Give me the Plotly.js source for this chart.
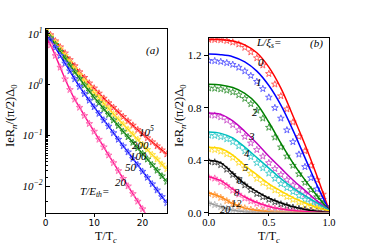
<!DOCTYPE html>
<html><head><meta charset="utf-8">
<script src="https://cdn.plot.ly/plotly-3.0.1.min.js"></script>
<style>html,body{margin:0;padding:0;background:#fff}#c{width:366px;height:244px}</style>
</head><body><div id="c"></div>
<script>
// ---------- Panel (a): T/Tc vs IeRn (log) for several T/E_th ----------
const aT = [0,1,2,3,4,5,6,7,8,9,10,11,12,13,14,15,16,17,18,19,20,21,22,23,24,25];
const aLabels = ['10<sup>5</sup>','200','100','50','20'];
const aRed    = [12.3,9.55,7.24,5.50,4.17,3.09,2.34,1.78,1.38,1.07,0.851,0.676,0.537,0.437,0.355,0.288,0.234,0.191,0.158,0.129,0.107,0.0891,0.0741,0.0617,0.0513,0.0427];
const aYellow = [11.5,8.91,6.76,5.01,3.72,2.75,2.04,1.55,1.17,0.891,0.692,0.550,0.427,0.339,0.263,0.209,0.166,0.132,0.105,0.0832,0.0661,0.0525,0.0417,0.0339,0.0269,0.0219];
const aGreen  = [10.7,8.32,6.17,4.47,3.31,2.40,1.78,1.32,0.977,0.741,0.562,0.437,0.331,0.257,0.200,0.155,0.120,0.0933,0.0724,0.0562,0.0437,0.0339,0.0263,0.0204,0.0158,0.0123];
const aBlue   = [10.0,7.59,5.37,3.72,2.63,1.86,1.29,0.912,0.661,0.490,0.363,0.269,0.200,0.151,0.112,0.0832,0.0617,0.0468,0.0347,0.0263,0.0195,0.0148,0.0110,0.00832,0.00617,0.00468];
const aPink   = [8.51,6.03,3.72,2.19,1.29,0.794,0.513,0.355,0.245,0.170,0.120,0.0832,0.0589,0.0407,0.0288,0.0200,0.0141,0.0100,0.00708,0.00501,0.00355,0.00251,0.00178,0.00126,0.00089,0.00063];
const aTickVals = [0.01,0.1,1,10];
const aTickText = ['<i>10<sup>−2</sup></i>','<i>10<sup>−1</sup></i>','<i>10<sup>0</sup></i>','<i>10<sup>1</sup></i>'];

// ---------- Panel (b): T/Tc vs IeRn for several L/xi_s ----------
const bLabels = ['0','1','2','3','4','5','6','8','12','20'];
const bTl = [0,0.1,0.2,0.3,0.4,0.5,0.6,0.7,0.8,0.9,1.0];
const bLine0  = [1.32,1.32,1.31,1.28,1.22,1.11,0.95,0.74,0.52,0.28,0.02];
const bLine1  = [1.21,1.205,1.19,1.15,1.08,0.97,0.82,0.63,0.42,0.21,0.02];
const bLine2  = [0.98,0.975,0.955,0.91,0.83,0.69,0.53,0.38,0.25,0.13,0.02];
const bLine3  = [0.76,0.75,0.70,0.62,0.53,0.43,0.34,0.25,0.17,0.09,0.02];
const bLine4  = [0.615,0.605,0.57,0.50,0.42,0.34,0.26,0.19,0.13,0.075,0.02];
const bLine5  = [0.50,0.49,0.44,0.36,0.29,0.22,0.165,0.115,0.075,0.04,0.015];
const bLine6  = [0.40,0.38,0.30,0.22,0.16,0.11,0.075,0.045,0.025,0.012,0.005];
const bLine8  = [0.275,0.245,0.18,0.12,0.078,0.048,0.028,0.016,0.009,0.004,0.002];
const bLine12 = [0.15,0.12,0.07,0.035,0.016,0.007,0.003,0.001,0.0005,0,0];
const bLine20 = [0.075,0.045,0.018,0.006,0.002,0.001,0,0,0,0,0];
const bTm = [0,0.05,0.1,0.15,0.2,0.25,0.3,0.35,0.4,0.45,0.5,0.55,0.6,0.65,0.7,0.75,0.8,0.85,0.9,0.95,1.0];
const bMk0  = [1.32,1.32,1.318,1.312,1.30,1.285,1.26,1.225,1.18,1.125,1.06,0.98,0.89,0.79,0.69,0.58,0.47,0.36,0.25,0.14,0.03];
const bMk1  = [1.16,1.158,1.152,1.143,1.13,1.108,1.08,1.045,1.0,0.945,0.88,0.80,0.72,0.63,0.54,0.445,0.35,0.265,0.18,0.10,0.03];
const bMk2  = [0.95,0.948,0.943,0.933,0.92,0.898,0.87,0.83,0.78,0.72,0.65,0.575,0.50,0.43,0.36,0.295,0.23,0.175,0.12,0.07,0.03];
const bMk3  = [0.745,0.742,0.73,0.705,0.67,0.63,0.58,0.53,0.48,0.43,0.38,0.335,0.29,0.25,0.21,0.175,0.14,0.105,0.07,0.045,0.02];
const bMk4  = [0.59,0.587,0.578,0.562,0.54,0.508,0.47,0.425,0.38,0.34,0.30,0.26,0.22,0.19,0.16,0.13,0.10,0.08,0.06,0.04,0.02];
const bMk5  = [0.485,0.48,0.468,0.448,0.42,0.382,0.34,0.30,0.26,0.228,0.20,0.172,0.145,0.122,0.10,0.08,0.06,0.047,0.035,0.025,0.015];
const bMk6  = [0.39,0.385,0.365,0.33,0.29,0.25,0.21,0.175,0.145,0.12,0.10,0.082,0.065,0.052,0.04,0.03,0.022,0.015,0.01,0.007,0.005];
const bMk8  = [0.27,0.262,0.235,0.205,0.17,0.14,0.11,0.088,0.07,0.055,0.042,0.032,0.024,0.018,0.013,0.01,0.007,0.005,0.003,0.002,0.001];
const bMk12 = [0.145,0.135,0.115,0.09,0.068,0.05,0.035,0.024,0.016,0.011,0.007,0.005,0.003,0.002,0.001,0.001,0.001,0.001,0.001,0.001,0.001];
const bMk20 = [0.072,0.06,0.044,0.03,0.018,0.011,0.006,0.003,0.002,0.001,0.001,0.001,0.001,0.001,0.001,0.001,0.001,0.001,0.001,0.001,0.001];

const aSeries = [aRed,aYellow,aGreen,aBlue,aPink];
const aColors = ['#ff0000','#ffd700','#008000','#0000ff','#ff1493'];
const aMkColors = ['#ff5a5a','#ffe24d','#3c9a3c','#5a5aff','#ff6eb4'];
const bLines = [bLine0,bLine1,bLine2,bLine3,bLine4,bLine5,bLine6,bLine8,bLine12,bLine20];
const bMarks = [bMk0,bMk1,bMk2,bMk3,bMk4,bMk5,bMk6,bMk8,bMk12,bMk20];
const bColors = ['#ff0000','#0000ff','#008000','#c000c0','#00bfbf','#ffd700','#000000','#ff1493','#ff8c1a','#999999'];
const bMkColors = ['#ff6060','#6464ff','#4ca04c','#d060d0','#50d0d0','#ffe040','#505050','#ff70b8','#ffaa60','#bbbbbb'];

const traces = [];
aSeries.forEach((s,i)=>{
  traces.push({x:aT,y:s,xaxis:'x',yaxis:'y',mode:'lines',line:{color:aColors[i],width:1.5,shape:'spline'},hoverinfo:'skip'});
  traces.push({x:aT,y:s,xaxis:'x',yaxis:'y',mode:'markers',marker:{symbol:'star-open',size:5,color:aMkColors[i],line:{width:1,color:aMkColors[i]}},hoverinfo:'skip'});
});
bMarks.forEach((s,i)=>{
  traces.push({x:bTm,y:s,xaxis:'x2',yaxis:'y2',mode:'markers',marker:{symbol:'star-open',size:5,color:bMkColors[i],line:{width:1,color:bMkColors[i]}},hoverinfo:'skip'});
});
bLines.forEach((s,i)=>{
  traces.push({x:bTl,y:s,xaxis:'x2',yaxis:'y2',mode:'lines',line:{color:bColors[i],width:1.5,shape:'spline'},hoverinfo:'skip'});
});

const W=366,H=244;
const px=(x)=>x/W, py=(y)=>1-y/H;
const serif='Liberation Serif, Times New Roman, serif';
const ann=(text,x,y,size,extra)=>Object.assign({text:text,x:px(x),y:py(y),xref:'paper',yref:'paper',showarrow:false,xanchor:'center',yanchor:'middle',borderpad:0,font:{family:serif,size:size||11,color:'#000'}},extra||{});

const annotations = [
  ann('<i>(a)</i>',152,50,11),
  ann('<i>'+aLabels[0]+'</i>',146,131,11),
  ann('<i>'+aLabels[1]+'</i>',140,145,11),
  ann('<i>'+aLabels[2]+'</i>',138,156,11),
  ann('<i>'+aLabels[3]+'</i>',131,167,11),
  ann('<i>'+aLabels[4]+'</i>',121,182,11),
  ann('<i>T/E<sub>th</sub>=</i>',94,192,11),
  ann('<i>L/ξ<sub>s</sub>=</i>',268,43,11),
  ann('<i>(b)</i>',316,43,11),
  ann('<i>'+bLabels[0]+'</i>',261,62,11),
  ann('<i>'+bLabels[1]+'</i>',259,82,11),
  ann('<i>'+bLabels[2]+'</i>',255,112,11),
  ann('<i>'+bLabels[3]+'</i>',251,136,11),
  ann('<i>'+bLabels[4]+'</i>',247,153,11),
  ann('<i>'+bLabels[5]+'</i>',245,167,10.5),
  ann('<i>'+bLabels[6]+'</i>',240,180,10.5),
  ann('<i>'+bLabels[7]+'</i>',237,192,10.5),
  ann('<i>'+bLabels[8]+'</i>',236,203,10.5),
  ann('<i>'+bLabels[9]+'</i>',225,209,10.5),
  ann('IeR<sub><i>n</i></sub>/(π/2)Δ<sub>0</sub>',11,116,12.5,{textangle:-90}),
  ann('IeR<sub><i>n</i></sub>/(π/2)Δ<sub>0</sub>',180,116,12.5,{textangle:-90}),
  ann('T/T<sub><i>c</i></sub>',106,236.5,12),
  ann('T/T<sub><i>c</i></sub>',269,236.5,12)
];

const layout = {
  width:W,height:H,margin:{l:0,r:0,t:0,b:0},showlegend:false,
  paper_bgcolor:'#fff',plot_bgcolor:'#fff',
  xaxis:{domain:[45.7/W,166.8/W],range:[0,25],tickvals:[0,10,20],ticks:'outside',ticklen:3,tickcolor:'#000',ticklabelstandoff:-2,
         showline:true,linecolor:'#000',linewidth:1,mirror:true,showgrid:false,zeroline:false,
         tickfont:{family:'DejaVu Sans, sans-serif',size:9,color:'#000'},anchor:'y'},
  yaxis:{domain:[1-212.7/H,1-29/H],type:'log',range:[Math.log10(0.003),Math.log10(12.5)],
         tickvals:aTickVals,ticktext:aTickText,ticks:'inside',ticklen:4,tickcolor:'#000',
         minor:{ticks:'inside',ticklen:2,tickcolor:'#000',showgrid:false},
         showline:true,linecolor:'#000',linewidth:1,mirror:true,showgrid:false,zeroline:false,
         tickfont:{family:serif,size:11,color:'#000'},anchor:'x'},
  xaxis2:{domain:[208.7/W,329/W],range:[0,1],tickvals:[0,0.5,1],ticktext:['0.0','0.5','1.0'],ticks:'outside',ticklen:2,tickcolor:'#000',ticklabelstandoff:-2,
         showline:true,linecolor:'#000',linewidth:1,mirror:true,showgrid:false,zeroline:false,
         tickfont:{family:serif,size:10.5,color:'#000'},anchor:'y2'},
  yaxis2:{domain:[1-212.7/H,1-37.7/H],range:[0,1.335],tickvals:[0,0.4,0.8,1.2],ticktext:['0.0','0.4','0.8','1.2'],ticks:'outside',ticklen:4,tickcolor:'#000',
         showline:true,linecolor:'#000',linewidth:1,mirror:true,showgrid:false,zeroline:false,
         tickfont:{family:serif,size:11,color:'#000'},anchor:'x2'},
  annotations:annotations
};
Plotly.newPlot('c',traces,layout,{staticPlot:true,displayModeBar:false});
</script></body></html>
